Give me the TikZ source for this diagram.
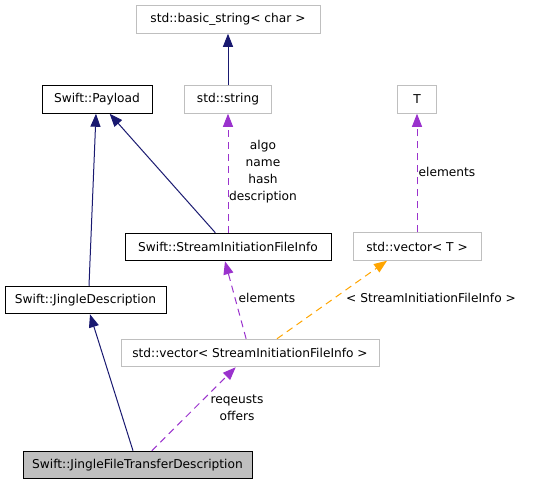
\documentclass[tikz,border=0pt]{standalone}
\usepackage{fontspec}
\setmainfont{DejaVu Sans}
\usetikzlibrary{arrows.meta}
\definecolor{navy}{HTML}{191970}
\definecolor{orchid}{HTML}{9A32CD}
\definecolor{orangeedge}{HTML}{FFA500}
\definecolor{greyline}{HTML}{BFBFBF}
\begin{document}
\begin{tikzpicture}[x=1pt, y=-1pt,
  every node/.style={font=\fontsize{12.2}{17}\selectfont, inner sep=0pt},
  cls/.style={draw=black, line width=1pt, minimum height=27.5pt},
  ext/.style={draw=greyline, line width=1pt, minimum height=27.5pt},
  inh/.style={draw=navy, line width=1pt, -{Triangle[length=13pt,width=10pt]}},
  use/.style={draw=orchid, line width=1pt, dash pattern=on 7pt off 5pt, -{Triangle[length=13pt,width=10pt]}},
  tmpl/.style={draw=orangeedge, line width=1pt, dash pattern=on 7pt off 5pt, -{Triangle[length=13pt,width=10pt]}},
  lbl/.style={align=center}]
\useasboundingbox (0,0) rectangle (537,485);
\node[ext, minimum width=184pt] (bstring) at (228,19.5){std::basic\_string< char >};
\node[cls, minimum width=110pt] (payload) at (97,99.5){Swift::Payload};
\node[ext, minimum width=87pt] (string) at (228,99.5){std::string};
\node[ext, minimum width=39pt] (T) at (417,99.5){T};
\node[cls, minimum width=206pt] (sifi) at (228,247){Swift::StreamInitiationFileInfo};
\node[ext, minimum width=128pt] (vT) at (417,246.5){std::vector< T >};
\node[cls, minimum width=161pt] (jd) at (85.5,300){Swift::JingleDescription};
\node[ext, minimum width=258pt] (vsifi) at (250,353){std::vector< StreamInitiationFileInfo >};
\node[cls, fill=greyline, minimum width=229pt] (jftd) at (137.5,465){Swift::JingleFileTransferDescription};
\draw[inh](string) -- (bstring);
\draw[inh](sifi) -- (payload);
\draw[inh]([xshift=3.5pt]jd.north) -- ([xshift=-1pt]payload.south);
\draw[inh](jftd) -- (jd);
\draw[use](sifi) -- (string);
\node[lbl] (lalgo) at (263,172){algo\\name\\hash\\description};
\draw[use](vT) -- (T);
\node[lbl] (lelemT) at (447,172){elements};
\draw[use](vsifi) -- ([xshift=-3pt]sifi.south);
\node[lbl] (lelem) at (267,298){elements};
\draw[tmpl]([xshift=27pt]vsifi.north) -- ([xshift=-30pt]vT.south);
\node[lbl] (ltmpl) at (431,298){< StreamInitiationFileInfo >};
\draw[use](jftd) -- (vsifi);
\node[lbl] (lreq) at (237,408){reqeusts\\offers};
\end{tikzpicture}
\end{document}
